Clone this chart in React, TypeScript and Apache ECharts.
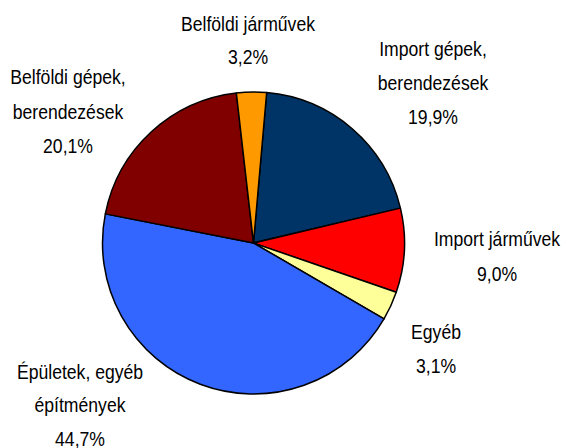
import React, { useEffect, useRef } from "react";
import * as echarts from "echarts";

const categories = [
  "Import gépek, berendezések",
  "Import járművek",
  "Egyéb",
  "Épületek, egyéb építmények",
  "Belföldi gépek, berendezések",
  "Belföldi járművek",
];
const values = [19.9, 9.0, 3.1, 44.7, 20.1, 3.2];
const labelLines = [
  ["Import gépek,", "berendezések"],
  ["Import járművek"],
  ["Egyéb"],
  ["Épületek, egyéb", "építmények"],
  ["Belföldi gépek,", "berendezések"],
  ["Belföldi járművek"],
];
const colors = ["#003366", "#FF0000", "#FFFF99", "#3366FF", "#800000", "#FF9900"];

// label layout: centre x and first line y, line pitch
const labelPos = [
  { x: 433, y: 49.5, pitch: 34 },
  { x: 497, y: 239.5, pitch: 35 },
  { x: 436, y: 332.5, pitch: 33.5 },
  { x: 80, y: 372, pitch: 33.5 },
  { x: 68, y: 77.5, pitch: 34.5 },
  { x: 248, y: 24, pitch: 33.5 },
];

const fmt = (v: number) => v.toFixed(1).replace(".", ",") + "%";

export default function App() {
  const ref = useRef<HTMLDivElement>(null);
  useEffect(() => {
    if (!ref.current) return;
    const chart = echarts.init(ref.current, null, { renderer: "svg" });
    const graphics: any[] = [];
    categories.forEach((_, i) => {
      const lines = [...labelLines[i], fmt(values[i])];
      const p = labelPos[i];
      lines.forEach((t, j) => {
        graphics.push({
          type: "text",
          x: p.x,
          y: p.y + j * p.pitch,
          scaleX: 0.88,
          style: {
            text: t,
            fill: "#000",
            font: "20px 'Liberation Sans', Arial, sans-serif",
            textAlign: "center",
            textVerticalAlign: "middle",
          },
        });
      });
    });
    chart.setOption({
      animation: false,
      backgroundColor: "#fff",
      graphic: graphics,
      series: [
        {
          type: "pie",
          center: [253.5, 243],
          radius: 151,
          startAngle: 85,
          clockwise: true,
          label: { show: false },
          labelLine: { show: false },
          itemStyle: { borderColor: "#000", borderWidth: 1.5 },
          emphasis: { disabled: true },
          data: categories.map((c, i) => ({
            name: c,
            value: values[i],
            itemStyle: { color: colors[i] },
          })),
        },
      ],
    });
    return () => chart.dispose();
  }, []);
  return (
    <div
      ref={ref}
      style={{ position: "fixed", left: 0, top: 0, width: 564, height: 448 }}
    />
  );
}
